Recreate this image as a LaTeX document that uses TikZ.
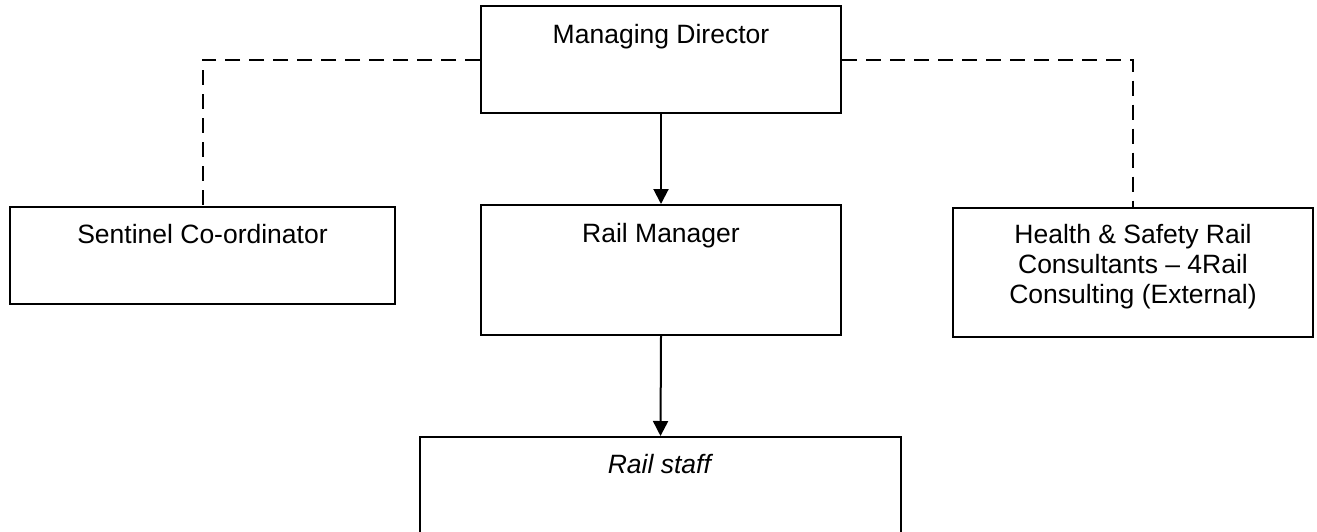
\documentclass[tikz,border=0pt]{standalone}
\usepackage{fontspec}
\setmainfont{Liberation Sans}
\usetikzlibrary{arrows.meta,positioning}

\begin{document}
\begin{tikzpicture}[x=1pt,y=-1pt,
  box/.style={draw, line width=2pt, inner sep=0pt, anchor=base, align=center,
    font=\fontsize{26.5}{30}\selectfont},
  dashline/.style={line width=2pt, dash pattern=on 15pt off 9pt},
  arr/.style={line width=2pt, -{Triangle[length=15pt,width=15pt]}}]
  \useasboundingbox (0,0) rectangle (1317,531);

  % boxes
  \node[box, minimum width=360pt, text height=37pt, text depth=70pt] (md) at (661,43) {Managing Director};
  \node[box, minimum width=385pt, text height=36pt, text depth=61pt] (sc) at (202.5,243) {Sentinel Co-ordinator};
  \node[box, minimum width=360pt, text height=37pt, text depth=93pt] (rm) at (661,242) {Rail Manager};
  % base of this one is its last line
  \node[box, minimum width=360pt, text height=95.5pt, text depth=33.5pt] (hs) at (1133,303.5)
    {Health \& Safety Rail\\Consultants -- 4Rail\\Consulting (External)};
  \node[box, minimum width=481pt, text height=36pt, text depth=72pt] (rs) at (660.5,473) {\textit{Rail staff}};

  % connectors
  \draw[dashline] (md.west) -| (sc.north);
  \draw[dashline] (md.east) -| (hs.north);
  \draw[arr] (md.south) -- (rm.north);
  \draw[arr] (rm.south) -- (rs.north);
\end{tikzpicture}
\end{document}
